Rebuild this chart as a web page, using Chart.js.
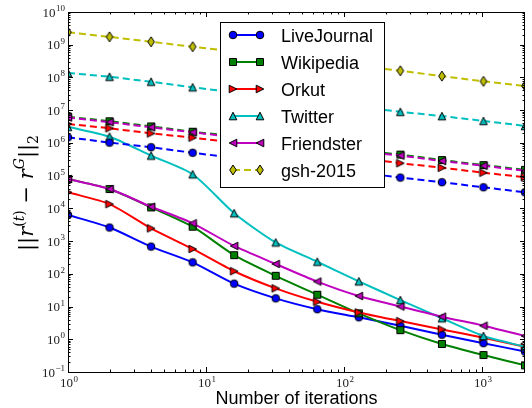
<!DOCTYPE html>
<html>
<head>
<meta charset="utf-8">
<script src="https://cdn.jsdelivr.net/npm/chart.js@4"></script>
<style>
  html, body { margin: 0; padding: 0; background: #fff; overflow: hidden; }
  canvas { display: block; }
</style>
</head>
<body>
<canvas id="chart" width="532" height="408"></canvas>
<script>
// ── Data (log-log) ─────────────────────────────────────────────────────────

const ITERS = [1, 2, 4, 8, 16, 32, 64, 128, 256, 512, 1024, 2048];
const NAMES = ['LiveJournal', 'Wikipedia', 'Orkut', 'Twitter', 'Friendster', 'gsh-2015'];

// solid lines
const LJ_SOLID   = [6.3e3, 2.6e3, 680, 224, 50, 17.8, 8.3, 4.7, 2.6, 1.38, 0.76, 0.42];
const WIKI_SOLID = [7.9e4, 3.9e4, 1.07e4, 2.75e3, 372, 87, 23, 6.2, 1.9, 0.72, 0.33, 0.16];
const ORK_SOLID  = [3.1e4, 1.35e4, 2.45e3, 575, 120, 36, 14, 6.6, 3.6, 2.0, 1.12, 0.59];
const TW_SOLID   = [3.1e6, 1.55e6, 4.1e5, 1.1e5, 7.1e3, 910, 234, 59, 15.8, 4.4, 1.26, 0.59];
const FR_SOLID   = [7.9e4, 3.9e4, 1.12e4, 3.5e3, 710, 200, 58, 21, 10, 4.9, 2.6, 1.26];

// dashed lines
const LJ_DASH   = [1.48e6, 1.02e6, 7.4e5, 5.0e5, 3.5e5, 2.5e5, 1.8e5, 1.26e5, 8.7e4, 6.3e4, 4.4e4, 3.1e4];
const WIKI_DASH = [6.3e6, 4.6e6, 3.2e6, 2.2e6, 1.6e6, 1.15e6, 8.3e5, 6.0e5, 4.4e5, 3.0e5, 2.1e5, 1.5e5];
const ORK_DASH  = [3.8e6, 2.8e6, 1.95e6, 1.45e6, 1.02e6, 7.2e5, 5.1e5, 3.5e5, 2.4e5, 1.74e5, 1.23e5, 8.9e4];
const TW_DASH   = [1.38e8, 1.05e8, 7.4e7, 5.0e7, 3.5e7, 2.5e7, 1.8e7, 1.26e7, 8.9e6, 6.6e6, 4.7e6, 3.3e6];
const FR_DASH   = [6.0e6, 4.3e6, 3.0e6, 2.1e6, 1.5e6, 1.1e6, 7.8e5, 5.6e5, 4.1e5, 2.8e5, 2.0e5, 1.4e5];
const GSH_DASH  = [2.4e9, 1.74e9, 1.23e9, 8.7e8, 6.2e8, 4.4e8, 3.1e8, 2.2e8, 1.6e8, 1.1e8, 7.6e7, 5.5e7];

const X_DECADES = [0, 1, 2, 3];
const Y_DECADES = [-1, 0, 1, 2, 3, 4, 5, 6, 7, 8, 9, 10];

// ── Styles ─────────────────────────────────────────────────────────────────

const COLORS = ['#0000ff', '#008000', '#ff0000', '#00bfbf', '#bf00bf', '#bfbf00'];
const SHAPES = ['circle', 'square', 'triRight', 'triUp', 'triLeft', 'diamond'];

function makeMarker(shape, color) {
    const c = document.createElement('canvas');
    c.width = 14; c.height = 14;
    const g = c.getContext('2d');
    g.translate(7, 7);
    g.beginPath();
    const h = 3.8;
    switch (shape) {
        case 'circle':   g.arc(0, 0, 3.8, 0, Math.PI * 2); break;
        case 'square':   g.rect(-3.5, -3.5, 7, 7); break;
        case 'triUp':    g.moveTo(0, -h); g.lineTo(h, h); g.lineTo(-h, h); break;
        case 'triRight': g.moveTo(h, 0); g.lineTo(-h, h); g.lineTo(-h, -h); break;
        case 'triLeft':  g.moveTo(-h, 0); g.lineTo(h, -h); g.lineTo(h, h); break;
        case 'diamond':  g.moveTo(0, -5); g.lineTo(3.3, 0); g.lineTo(0, 5); g.lineTo(-3.3, 0); break;
    }
    g.closePath();
    g.fillStyle = color;
    g.fill();
    g.lineWidth = 1;
    g.strokeStyle = '#000';
    g.stroke();
    return c;
}

const MARKERS = COLORS.map((col, i) => makeMarker(SHAPES[i], col));

const toPoints = vals => vals.map((v, i) => ({ x: ITERS[i], y: v }));

const SERIES = [
    { k: 0, vals: LJ_SOLID,   dash: false },
    { k: 1, vals: WIKI_SOLID, dash: false },
    { k: 2, vals: ORK_SOLID,  dash: false },
    { k: 3, vals: TW_SOLID,   dash: false },
    { k: 4, vals: FR_SOLID,   dash: false },
    { k: 0, vals: LJ_DASH,    dash: true },
    { k: 1, vals: WIKI_DASH,  dash: true },
    { k: 2, vals: ORK_DASH,   dash: true },
    { k: 3, vals: TW_DASH,    dash: true },
    { k: 4, vals: FR_DASH,    dash: true },
    { k: 5, vals: GSH_DASH,   dash: true },
];

const datasets = SERIES.map((s, i) => ({
    label: NAMES[s.k],
    data: toPoints(s.vals),
    borderColor: COLORS[s.k],
    borderWidth: 2,
    borderDash: s.dash ? [7, 4] : [],
    tension: s.dash ? 0 : 0.25,
    pointStyle: MARKERS[s.k],
    pointRadius: 5,
    pointHoverRadius: 5,
    fill: false,
    order: SERIES.length - i,
}));

// ── Axes, ticks, labels, legend (matplotlib look) ──────────────────────────

function drawPow(ctx, exp, x, y, align) {
    const base = '10';
    const sup = exp < 0 ? '\u2212' + (-exp) : String(exp);
    ctx.font = "13px 'Liberation Serif'";
    const wb = ctx.measureText(base).width;
    ctx.font = "9px 'Liberation Serif'";
    const ws = ctx.measureText(sup).width;
    const w = wb + ws + 0.5;
    const x0 = align === 'right' ? x - w : x - w / 2;
    ctx.fillStyle = '#222';
    ctx.textAlign = 'left';
    ctx.textBaseline = 'alphabetic';
    ctx.font = "13px 'Liberation Serif'";
    ctx.fillText(base, x0, y);
    ctx.font = "9px 'Liberation Serif'";
    ctx.fillText(sup, x0 + wb + 0.5, y - 5.5);
}

function drawYLabel(ctx, cx, baseX) {
    const big = 21, small = 14;
    const parts = [
        { t: '||', f: `${big}px 'DejaVu Serif'`, dy: 0 },
        { t: 'r', f: `italic ${big}px 'DejaVu Serif'`, dy: 0 },
        { t: '(', f: `${small}px 'DejaVu Serif'`, dy: -9 },
        { t: 't', f: `italic ${small}px 'DejaVu Serif'`, dy: -9 },
        { t: ')', f: `${small}px 'DejaVu Serif'`, dy: -9 },
        { t: ' \u2212 ', f: `${big}px 'DejaVu Serif'`, dy: 0 },
        { t: 'r', f: `italic ${big}px 'DejaVu Serif'`, dy: 0 },
        { t: 'G', f: `italic ${small}px 'DejaVu Serif'`, dy: -9 },
        { t: '||', f: `${big}px 'DejaVu Serif'`, dy: 0 },
        { t: '2', f: `${small}px 'DejaVu Serif'`, dy: 5 },
    ];
    let total = 0;
    parts.forEach(p => { ctx.font = p.f; p.w = ctx.measureText(p.t).width; total += p.w; });
    ctx.save();
    ctx.translate(baseX, cx);
    ctx.rotate(-Math.PI / 2);
    ctx.fillStyle = '#000';
    ctx.textAlign = 'left';
    ctx.textBaseline = 'alphabetic';
    let x = -total / 2;
    parts.forEach(p => { ctx.font = p.f; ctx.fillText(p.t, x, p.dy); x += p.w; });
    ctx.restore();
}

const mplAxes = {
    id: 'mplAxes',
    afterDraw(chart) {
        const { ctx, chartArea: a, scales: { x: sx, y: sy } } = chart;
        ctx.save();

        // frame
        ctx.strokeStyle = '#000';
        ctx.lineWidth = 1;
        ctx.strokeRect(a.left + 0.5, a.top + 0.5, a.right - a.left - 1, a.bottom - a.top);

        // ticks, inward on all four sides
        ctx.beginPath();
        const xt = (v, len) => {
            const px = Math.round(sx.getPixelForValue(v)) + 0.5;
            ctx.moveTo(px, a.bottom); ctx.lineTo(px, a.bottom - len);
            ctx.moveTo(px, a.top); ctx.lineTo(px, a.top + len);
        };
        const yt = (v, len) => {
            const py = Math.round(sy.getPixelForValue(v)) + 0.5;
            ctx.moveTo(a.left, py); ctx.lineTo(a.left + len, py);
            ctx.moveTo(a.right, py); ctx.lineTo(a.right - len, py);
        };
        X_DECADES.forEach(d => {
            xt(Math.pow(10, d), 5);
            for (let m = 2; m <= 9; m++) {
                const v = m * Math.pow(10, d);
                if (v <= sx.max) xt(v, 2.5);
            }
        });
        Y_DECADES.forEach(d => {
            yt(Math.pow(10, d), 5);
            if (d < 10) for (let m = 2; m <= 9; m++) yt(m * Math.pow(10, d), 2.5);
        });
        ctx.stroke();

        // tick labels
        X_DECADES.forEach(d => drawPow(ctx, d, sx.getPixelForValue(Math.pow(10, d)) + 1, a.bottom + 15, 'center'));
        Y_DECADES.forEach(d => drawPow(ctx, d, a.left - 3, sy.getPixelForValue(Math.pow(10, d)) + 4.5, 'right'));

        // axis labels
        ctx.fillStyle = '#000';
        ctx.font = "18px 'Liberation Sans'";
        ctx.textAlign = 'center';
        ctx.textBaseline = 'alphabetic';
        ctx.fillText('Number of iterations', (a.left + a.right) / 2, 404);
        drawYLabel(ctx, 193, 33);

        // legend
        const L = { left: 220, top: 22, right: 384, bottom: 187 };
        ctx.fillStyle = '#fff';
        ctx.fillRect(L.left, L.top, L.right - L.left, L.bottom - L.top);
        ctx.strokeStyle = '#000';
        ctx.lineWidth = 1;
        ctx.strokeRect(L.left + 0.5, L.top + 0.5, L.right - L.left, L.bottom - L.top);
        NAMES.forEach((name, i) => {
            const y = 35 + 27 * i;
            ctx.beginPath();
            ctx.strokeStyle = COLORS[i];
            ctx.lineWidth = 2;
            ctx.setLineDash(i === 5 ? [7, 4] : []);
            ctx.moveTo(233, y); ctx.lineTo(260, y);
            ctx.stroke();
            ctx.setLineDash([]);
            const m = MARKERS[i];
            ctx.drawImage(m, 233 - m.width / 2, y - m.height / 2);
            ctx.drawImage(m, 260 - m.width / 2, y - m.height / 2);
            ctx.fillStyle = '#000';
            ctx.font = "18px 'Liberation Sans'";
            ctx.textAlign = 'left';
            ctx.fillText(name, 281, y + 6.7);
        });

        ctx.restore();
    },
};

// ── Chart ──────────────────────────────────────────────────────────────────

new Chart(document.getElementById('chart'), {
    type: 'line',
    data: { datasets },
    options: {
        responsive: false,
        animation: false,
        devicePixelRatio: 1,
        layout: { padding: { left: 68, top: 12, right: 0, bottom: 36 } },
        plugins: { legend: { display: false }, tooltip: { enabled: false } },
        scales: {
            x: { type: 'logarithmic', min: 1, max: 2048, display: false },
            y: { type: 'logarithmic', min: 0.1, max: 1e10, display: false },
        },
    },
    plugins: [mplAxes],
});
</script>
</body>
</html>
